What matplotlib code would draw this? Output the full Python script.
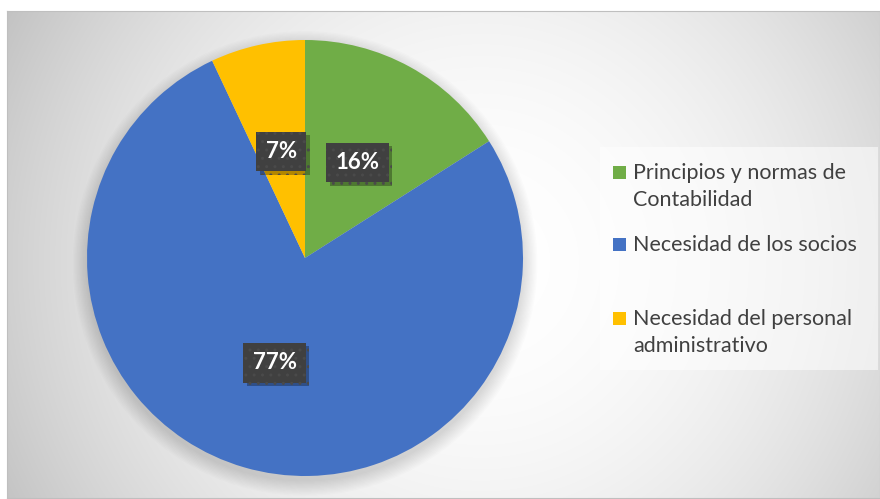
import numpy as np
import matplotlib.pyplot as plt
import matplotlib.patheffects as pe
from matplotlib.patches import Rectangle, Circle

# Daten
labels = ['Principios y normas de\nContabilidad', 'Necesidad de los socios',
          'Necesidad del personal\nadministrativo']
values = [16, 77, 7]
colors = ['#70AD47', '#4472C4', '#FFC000']

W, H = 880, 499
fig = plt.figure(figsize=(W / 100, H / 100), dpi=100)
fig.patch.set_facecolor('white')

# Hintergrund mit radialem Verlauf (Diagrammbereich)
x0, y0, x1, y1 = 7, 11, 880, 498
bg = fig.add_axes([x0 / W, 1 - y1 / H, (x1 - x0) / W, (y1 - y0) / H])
xx, yy = np.meshgrid(np.arange(x0, x1), np.arange(y0, y1))
d = np.hypot(xx - 480, yy - 262)
v = np.clip(255 - 59 * (d / 530) ** 2, 190, 255) / 255
bg.imshow(np.dstack([v, v, v]), extent=[0, 1, 0, 1], aspect='auto', zorder=0)
bg.set_xlim(0, 1)
bg.set_ylim(0, 1)
bg.set_xticks([])
bg.set_yticks([])
for s in bg.spines.values():
    s.set_color('#bfbfbf')
    s.set_linewidth(0.8)

# Kreisdiagramm
ax = fig.add_axes([87 / W, 1 - 476 / H, 436 / W, 436 / H])
ax.set_facecolor('none')

# weicher Schatten
for i in range(12):
    c = Circle((0.0, -0.025), 1.0 + 0.006 * i, color='black',
               alpha=0.011, lw=0, zorder=0)
    c.set_clip_on(False)
    ax.add_patch(c)

wedges, texts, autotexts = ax.pie(
    values, colors=colors, startangle=90, counterclock=False,
    autopct='%1.0f%%', pctdistance=0.5,
    wedgeprops=dict(linewidth=0),
    textprops=dict(color='white', fontsize=16, fontweight='bold', family='Lato'))
for w in wedges:
    w.set_zorder(2)
for t in autotexts:
    t.set_zorder(5)
    t.set_bbox(dict(boxstyle='square,pad=0.42', facecolor='#404040',
                    edgecolor='#4a4a4a', linewidth=0, hatch='..'))
    t.get_bbox_patch().set_path_effects([
        pe.withSimplePatchShadow(offset=(2.5, -2.5), shadow_rgbFace='black', alpha=0.3),
        pe.Normal()])
ax.set_xlim(-1.0, 1.0)
ax.set_ylim(-1.0, 1.0)
ax.set_aspect('equal')
ax.axis('off')

# Legende
fig.patches.append(Rectangle((600 / W, 1 - 370 / H), 278 / W, 223 / H,
                             transform=fig.transFigure, facecolor='white',
                             alpha=0.55, lw=0, zorder=1))
entry_y = [172, 244, 318]
for lab, col, yc in zip(labels, colors, entry_y):
    fig.patches.append(Rectangle((613 / W, 1 - (yc + 6.5) / H), 13 / W, 13 / H,
                                 transform=fig.transFigure, facecolor=col,
                                 lw=0, zorder=2))
    fig.text(633 / W, 1 - (yc - 9) / H, lab, ha='left', va='top',
             fontsize=15.5, family='Lato', color='#404040', linespacing=1.45)

fig.savefig('out.png', dpi=100)
